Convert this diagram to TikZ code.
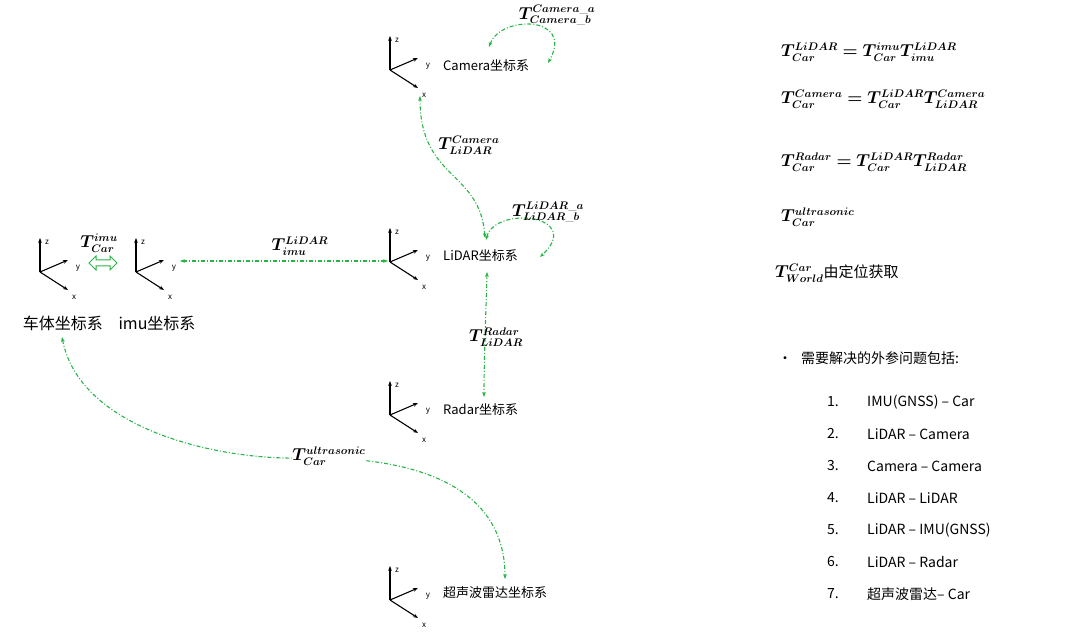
\documentclass[tikz,border=0pt]{standalone}
\usepackage{fontspec}
\usepackage{amsmath,bm}
\newfontfamily\cjk{Noto Sans CJK SC}
\usetikzlibrary{arrows.meta,calc}
\definecolor{lg}{RGB}{40,180,70}
\begin{document}
\begin{tikzpicture}[x=1pt,y=-1pt,
  conn/.style={lg,line width=1.1pt,dash pattern=on 4pt off 2pt on 1pt off 2pt,{Stealth[length=5pt]}-{Stealth[length=5pt]}},
  lbl/.style={font=\cjk\fontsize{13}{15}\selectfont,anchor=west,inner sep=0},
  big/.style={font=\cjk\fontsize{16}{18}\selectfont,inner sep=0},
  ax/.style={font=\cjk\fontsize{8}{9}\selectfont,inner sep=0},
  ml/.style={font=\fontsize{16}{18}\selectfont,inner sep=0},
  eq/.style={font=\fontsize{16}{18}\selectfont,anchor=west,inner sep=0},
  lst/.style={font=\cjk\fontsize{14}{16}\selectfont,anchor=west,inner sep=0}]
\useasboundingbox (0,0) rectangle (1080,639);
\newcommand\frm[2]{%
  \coordinate (#1) at #2;
  \draw[line width=1.1pt,-{Stealth[length=5pt]}] (#1) -- ++(0,-34);
  \draw[line width=1.1pt,-{Stealth[length=5pt]}] (#1) -- ++(28,-12);
  \draw[line width=1.1pt,-{Stealth[length=5pt]}] (#1) -- ++(28,18);
  \node[ax] at ($(#1)+(7,-30)$) {z};
  \node[ax] at ($(#1)+(38,-4)$) {y};
  \node[ax] at ($(#1)+(34,25)$) {x};}
\frm{car}{(40,272)}
\frm{imu}{(136,272)}
\frm{lid}{(390,262)}
\frm{cam}{(390,70)}
\frm{rad}{(390,415)}
\frm{ult}{(390,600)}
\node[lbl] (tcam) at (443,66) {Camera坐标系};
\node[lbl] (tlid) at (443,256) {LiDAR坐标系};
\node[lbl] (trad) at (443,410) {Radar坐标系};
\node[lbl] (tult) at (443,593) {超声波雷达坐标系};
\node[big] (tcar) at (63,323) {车体坐标系};
\node[big] (timu) at (157,323) {imu坐标系};
\draw[lg,line width=1pt] (89,263) -- (96,256) -- (96,260) -- (110,260) -- (110,256) -- (117,263) -- (110,270) -- (110,266) -- (96,266) -- (96,270) -- cycle;
\node[ml] at (99,243) {$\bm{T^{imu}_{Car}}$};
\coordinate (a1) at (180,261); \coordinate (a2) at (388,261);
\draw[conn] (a1) -- (a2);
\node[ml] at (300,246) {$\bm{T^{LiDAR}_{imu}}$};
\coordinate (b1) at (485,238); \coordinate (b2) at (420,96);
\draw[conn] (b1) .. controls (480,170) and (420,180) .. (b2);
\node[ml] at (469,145) {$\bm{T^{Camera}_{LiDAR}}$};
\coordinate (c1) at (489,47); \coordinate (c2) at (548,63);
\draw[conn] (c1) .. controls (500,15) and (575,15) .. (c2);
\node[ml] at (557,15) {$\bm{T^{Camera\_a}_{Camera\_b}}$};
\coordinate (d1) at (486,240); \coordinate (d2) at (540,257);
\draw[conn] (d1) .. controls (495,205) and (585,215) .. (d2);
\node[ml] at (548,212) {$\bm{T^{LiDAR\_a}_{LiDAR\_b}}$};
\coordinate (e1) at (487,272); \coordinate (e2) at (484,397);
\draw[conn] (e1) .. controls (486,310) and (484,360) .. (e2);
\node[ml] at (496,337) {$\bm{T^{Radar}_{LiDAR}}$};
\coordinate (f1) at (62,337); \coordinate (f2) at (505,579);
\draw[conn] (f1) .. controls (80,430) and (220,460) .. (300,458) .. controls (440,455) and (505,500) .. (f2);
\node[ml,fill=white] at (329,456) {$\bm{T^{ultrasonic}_{Car}}$};
\node[eq] (q1) at (781,52) {$\bm{T^{LiDAR}_{Car}=T^{imu}_{Car}T^{LiDAR}_{imu}}$};
\node[eq] (q2) at (781,99) {$\bm{T^{Camera}_{Car}=T^{LiDAR}_{Car}T^{Camera}_{LiDAR}}$};
\node[eq] (q3) at (781,162) {$\bm{T^{Radar}_{Car}=T^{LiDAR}_{Car}T^{Radar}_{LiDAR}}$};
\node[eq] (q4) at (781,217) {$\bm{T^{ultrasonic}_{Car}}$};
\node[eq] (q5) at (775,273) {$\bm{T^{Car}_{World}}$\cjk\fontsize{15}{17}\selectfont 由定位获取};
\node[lst] (h) at (778,358) {•\hspace{9pt}需要解决的外参问题包括:};
\foreach \n/\t [count=\i] in {1/IMU(GNSS) – Car,2/LiDAR – Camera,3/Camera – Camera,4/LiDAR – LiDAR,5/LiDAR – IMU(GNSS),6/LiDAR – Radar,7/超声波雷达– Car}{
  \node[lst] (n\i) at (827,370+32*\i) {\n.};
  \node[lst] (t\i) at (867,370+32*\i) {\t};
}
\end{tikzpicture}
\end{document}
